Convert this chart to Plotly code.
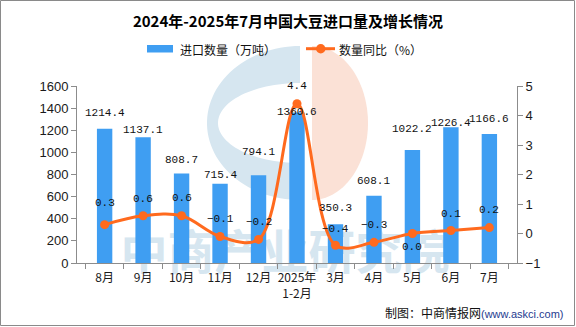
import numpy as np
import plotly.graph_objects as go

# ---- data ----
months = ["8月", "9月", "10月", "11月", "12月", "2025年<br>1-2月",
          "3月", "4月", "5月", "6月", "7月"]
imports = [1214.4, 1137.1, 808.7, 715.4, 794.1, 1360.6,
           350.3, 608.1, 1022.2, 1226.4, 1166.6]          # 万吨
yoy = [0.3, 0.6, 0.6, -0.1, -0.2, 4.4, -0.4, -0.3, 0.0, 0.1, 0.2]  # %

# vertical nudges (px) for the value labels
bar_label_shift = [16, 7, 14, 9, 23, 0, 16, 15, 21, 4, 15]
yoy_label_shift = [22, 17, 18, 17, 17, 18, 16, 17, -13, 17, 18]

BAR_COLOR = "#3f9ef2"
LINE_COLOR = "#ff6a1e"
AXIS_COLOR = "#8c8c8c"

W, H = 576, 327
L, R, T, B = 77, 517, 86, 263


def px(x):
    return (x - L) / (R - L)


def py(y):
    return (B - y) / (B - T)


def arc(cx, cy, rx, ry, a0, a1, n=60):
    a = np.radians(np.linspace(a0, a1, n))
    return list(zip(cx + rx * np.cos(a), cy - ry * np.sin(a)))


def path_from(points):
    return "M" + " L".join(f"{px(x):.4f},{py(y):.4f}" for x, y in points) + " Z"


fig = go.Figure()

# faint brand watermark text, on the first (lowest) subplot so the bars sit above it
fig.add_trace(go.Scatter(
    x=[px(285)], y=[py(257)], xaxis="x", yaxis="y",
    mode="text", text=["中商产业研究院"], cliponaxis=False,
    textfont=dict(family="Noto Sans CJK SC", size=47, color="#d6e6f0", weight="bold"),
    hoverinfo="skip", showlegend=False,
))

fig.add_trace(go.Bar(
    x=months, y=imports, xaxis="x2", yaxis="y2",
    marker=dict(color=BAR_COLOR, line=dict(width=0)),
    width=0.4, name="进口数量（万吨）", showlegend=False,
))

fig.add_trace(go.Scatter(
    x=months, y=yoy, xaxis="x2", yaxis="y3",
    mode="lines+markers", name="数量同比（%）",
    line=dict(color=LINE_COLOR, width=3, shape="spline", smoothing=1),
    marker=dict(color=LINE_COLOR, size=9),
    cliponaxis=False, showlegend=False,
))

label_font = dict(family="Liberation Mono", size=11, color="#111111")
annotations = []
for m, v, s in zip(months, imports, bar_label_shift):
    annotations.append(dict(x=m, y=v, xref="x2", yref="y2", text=f"{v:.1f}",
                            showarrow=False, yshift=s, yanchor="middle",
                            font=label_font))
for m, v, s in zip(months, yoy, yoy_label_shift):
    annotations.append(dict(x=m, y=v, xref="x2", yref="y3",
                            text=f"{v:.1f}".replace("-", "−"),
                            showarrow=False, yshift=s, yanchor="middle",
                            font=label_font))

# legend
legend_font = dict(family="Noto Sans CJK SC", size=12, color="#111111")
annotations += [
    dict(x=px(178), y=py(49.5), xref="paper", yref="paper", xanchor="left",
         yanchor="middle", text="进口数量（万吨）", showarrow=False, font=legend_font),
    dict(x=px(337), y=py(49.5), xref="paper", yref="paper", xanchor="left",
         yanchor="middle", text="数量同比（%）", showarrow=False, font=legend_font),
    # source line
    dict(x=px(566), y=py(312), xref="paper", yref="paper", xanchor="right",
         yanchor="middle", showarrow=False,
         text="制图：中商情报网<span style='color:#1f3b8f;font-family:Liberation Sans;font-size:11px'>(www.askci.com)</span>",
         font=dict(family="Noto Sans CJK SC", size=12, color="#111111")),
]

shapes = [
    # logo watermark
    dict(type="path", xref="paper", yref="paper", layer="below",
         path=path_from(arc(300, 123, 93, 77, 90, 270) + arc(300, 123, 82, 40, 270, 90)),
         fillcolor="#d6e6f0", line=dict(width=0)),
    dict(type="path", xref="paper", yref="paper", layer="below",
         path=path_from(arc(312, 123, 56, 77, 90, -90)),
         fillcolor="#fbe1d6", line=dict(width=0)),
    # legend symbols
    dict(type="rect", xref="paper", yref="paper",
         x0=px(147), x1=px(173), y0=py(45), y1=py(52.5),
         fillcolor=BAR_COLOR, line=dict(width=0)),
    dict(type="line", xref="paper", yref="paper",
         x0=px(306), x1=px(335), y0=py(48.7), y1=py(48.7),
         line=dict(color=LINE_COLOR, width=3)),
    dict(type="circle", xref="paper", yref="paper",
         x0=px(316), x1=px(325.5), y0=py(44), y1=py(53.5),
         fillcolor=LINE_COLOR, line=dict(width=0)),
    # outer frame
    dict(type="rect", xref="paper", yref="paper",
         x0=px(0.5), x1=px(574.5), y0=py(0.5), y1=py(325.5),
         line=dict(color="#8a8a8a", width=1), fillcolor="rgba(0,0,0,0)"),
]

tick_font = dict(family="Liberation Sans", size=13, color="#1a1a1a")
axis_common = dict(showline=True, linecolor=AXIS_COLOR, linewidth=1,
                   ticks="outside", ticklen=5, tickcolor=AXIS_COLOR,
                   showgrid=False, zeroline=False)

fig.update_layout(
    width=W, height=H,
    margin=dict(l=L, r=W - R, t=T, b=H - B),
    paper_bgcolor="white", plot_bgcolor="rgba(0,0,0,0)",
    title=dict(text="<b>2024年-2025年7月中国大豆进口量及增长情况</b>",
               x=0.5, xref="container", xanchor="center",
               y=1 - 21.5 / H, yref="container", yanchor="middle",
               font=dict(family="Noto Sans CJK SC", size=15, color="#000000")),
    xaxis=dict(domain=[0, 1], range=[0, 1], visible=False, fixedrange=True),
    yaxis=dict(domain=[0, 1], range=[0, 1], visible=False, fixedrange=True),
    xaxis2=dict(domain=[0, 1], anchor="y2", type="category", tickson="boundaries",
                tickangle=0, ticklabelstandoff=4,
                tickfont=dict(family="Noto Sans CJK SC", size=12, color="#1a1a1a"),
                **axis_common),
    yaxis2=dict(domain=[0, 1], anchor="x2", range=[0, 1600], dtick=200,
                tickfont=tick_font, **axis_common),
    yaxis3=dict(overlaying="y2", anchor="x2", side="right", range=[-1, 5], dtick=1,
                tickfont=tick_font, **axis_common),
    annotations=annotations,
    shapes=shapes,
    showlegend=False,
)

fig.write_html("out.html")
